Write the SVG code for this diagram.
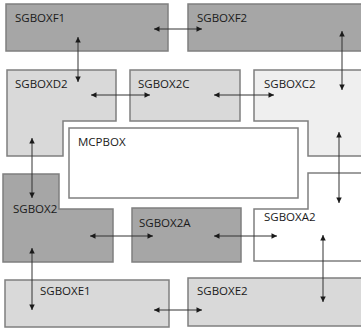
<svg xmlns="http://www.w3.org/2000/svg" width="361" height="329" viewBox="0 0 361 329">
<defs>
<marker id="ah" viewBox="0 0 10 10" refX="10" refY="5" markerWidth="6" markerHeight="5.5" orient="auto-start-reverse" markerUnits="userSpaceOnUse">
<path d="M0,0 L10,5 L0,10 Z" fill="#1a1a1a"/>
</marker>
</defs>
<style>
.box{stroke:#7f7f7f;stroke-width:1.5}
.dark{fill:#a6a6a6}
.light{fill:#d9d9d9}
.pale{fill:#efefef}
.white{fill:#ffffff}
text{font-family:"Open Sans","Liberation Sans",sans-serif;font-size:11.5px;fill:#1a1a1a}
.conn line{stroke:#333333;stroke-width:1;marker-start:url(#ah);marker-end:url(#ah)}
</style>
<rect width="361" height="329" fill="#ffffff"/>
<g id="SGBOXF1"><rect class="box dark" x="6" y="4" width="162" height="47"/><text x="15" y="22">SGBOXF1</text></g>
<g id="SGBOXF2"><rect class="box dark" x="188" y="4" width="176" height="47"/><text x="197" y="22">SGBOXF2</text></g>
<g id="SGBOXD2"><polygon class="box light" points="7,70 116,70 116,121 63,121 63,156 7,156"/><text x="15" y="88">SGBOXD2</text></g>
<g id="SGBOX2C"><rect class="box light" x="130" y="70" width="110" height="51"/><text x="138" y="88">SGBOX2C</text></g>
<g id="SGBOXC2"><polygon class="box pale" points="254,70 364,70 364,156 308,156 308,121 254,121"/><text x="264" y="88">SGBOXC2</text></g>
<g id="MCPBOX"><rect class="box white" x="69" y="128" width="229" height="70"/><text x="78" y="146">MCPBOX</text></g>
<g id="SGBOX2"><polygon class="box dark" points="3,174 59,174 59,209 113,209 113,262 3,262"/><text x="13" y="213">SGBOX2</text></g>
<g id="SGBOX2A"><rect class="box dark" x="132" y="208" width="109" height="54"/><text x="139" y="227">SGBOX2A</text></g>
<g id="SGBOXA2"><polygon class="box white" points="308,173 364,173 364,261 254,261 254,209 308,209"/><text x="264" y="221">SGBOXA2</text></g>
<g id="SGBOXE1"><rect class="box light" x="5" y="280" width="164" height="47"/><text x="40" y="295">SGBOXE1</text></g>
<g id="SGBOXE2"><rect class="box light" x="188" y="278" width="176" height="48"/><text x="197" y="295">SGBOXE2</text></g>
<g id="connectors" class="conn">
<line x1="154" y1="29" x2="202" y2="29"/>
<line x1="78" y1="37" x2="78" y2="82"/>
<line x1="91" y1="95" x2="150" y2="95"/>
<line x1="214" y1="95" x2="274" y2="95"/>
<line x1="342" y1="31" x2="342" y2="90"/>
<line x1="32" y1="138" x2="32" y2="198"/>
<line x1="339" y1="132" x2="339" y2="203"/>
<line x1="90" y1="236" x2="153" y2="236"/>
<line x1="214" y1="236" x2="277" y2="236"/>
<line x1="32" y1="248" x2="32" y2="310"/>
<line x1="323" y1="235" x2="323" y2="302"/>
<line x1="154" y1="310" x2="202" y2="310"/>
</g>
</svg>
